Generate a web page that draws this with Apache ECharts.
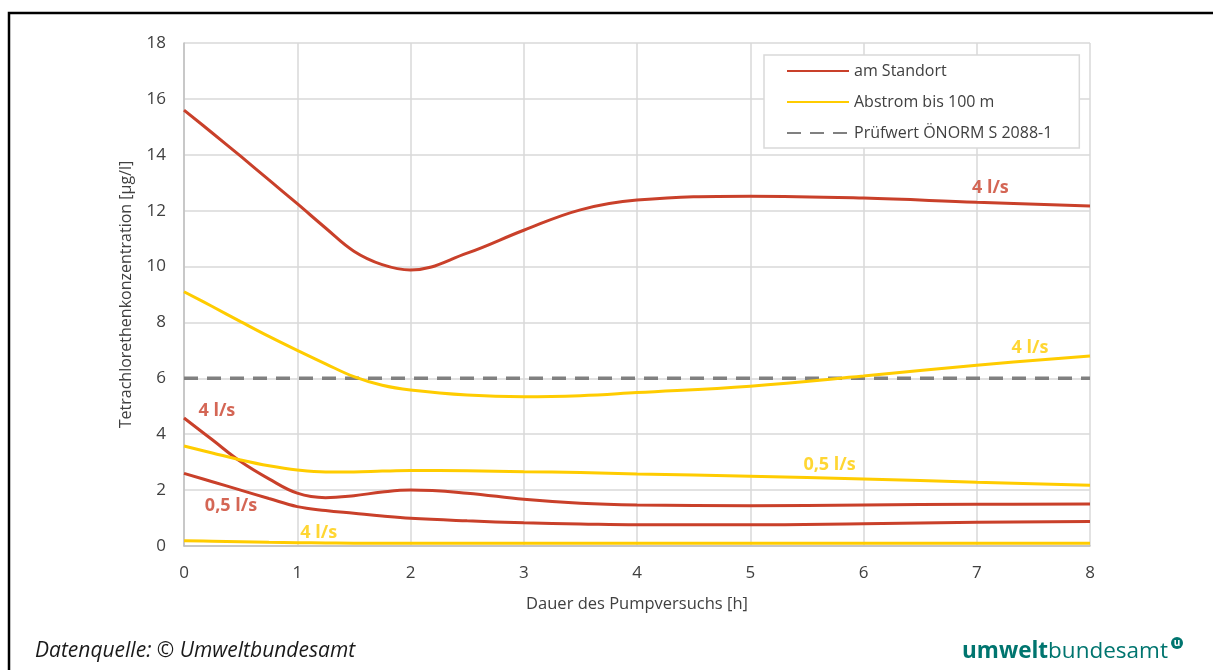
<!DOCTYPE html>
<html>
<head>
<meta charset="utf-8">
<script src="https://cdn.jsdelivr.net/npm/echarts@6/dist/echarts.min.js"></script>
<style>
html,body{margin:0;padding:0;background:#fff;}
#chart{width:1213px;height:670px;}
</style>
</head>
<body>
<div id="chart"></div>
<script>
// ---- data ----
var hours = [0, 0.25, 0.5, 0.75, 1, 1.25, 1.5, 1.75, 2, 2.5, 3, 3.5, 4, 5, 6, 7, 8];
var standort4 = [15.6, 14.78, 13.95, 13.1, 12.25, 11.38, 10.55, 10.07, 9.88, 10.48, 11.3, 12.03, 12.38, 12.52, 12.45, 12.3, 12.17];
var standort4b = [4.58, 3.8, 3.02, 2.4, 1.89, 1.73, 1.8, 1.93, 2.0, 1.89, 1.67, 1.53, 1.47, 1.44, 1.47, 1.49, 1.5];
var standort05 = [2.6, 2.3, 2.0, 1.7, 1.41, 1.27, 1.17, 1.07, 0.99, 0.9, 0.83, 0.79, 0.76, 0.76, 0.8, 0.85, 0.88];
var abstrom4 = [9.1, 8.57, 8.03, 7.5, 7.0, 6.52, 6.06, 5.75, 5.58, 5.40, 5.34, 5.38, 5.49, 5.72, 6.08, 6.47, 6.8];
var abstrom05 = [3.58, 3.33, 3.08, 2.87, 2.72, 2.65, 2.65, 2.68, 2.7, 2.69, 2.66, 2.63, 2.58, 2.5, 2.4, 2.28, 2.17];
var abstrom4b = [0.19, 0.17, 0.15, 0.13, 0.12, 0.11, 0.1, 0.1, 0.1, 0.1, 0.1, 0.1, 0.1, 0.1, 0.1, 0.1, 0.1];
var pruefwertX = [0, 8];
var pruefwertY = [6, 6];
var xTicks = [0, 1, 2, 3, 4, 5, 6, 7, 8];
var yTicks = [0, 2, 4, 6, 8, 10, 12, 14, 16, 18];
// annotation labels: [x, y, text]
var labelsRed = [[7.12, 12.81, '4 l/s'], [0.29, 4.83, '4 l/s'], [0.415, 1.43, '0,5 l/s']];
var labelsYellow = [[7.47, 7.09, '4 l/s'], [5.70, 2.9, '0,5 l/s'], [1.19, 0.47, '4 l/s']];
var legendNames = ['am Standort', 'Abstrom bis 100 m', 'Prüfwert ÖNORM S 2088-1'];

var RED = '#c9402a', YEL = '#ffcc00', GRAY = '#808080';

function pairs(xs, ys) { return xs.map(function (x, i) { return [x, ys[i]]; }); }

function lineSeries(name, ys, color) {
  return {
    name: name, type: 'line', data: pairs(hours, ys), smooth: 0.4,
    symbol: 'none', lineStyle: { color: color, width: 3 }, itemStyle: { color: color },
    z: 3, silent: true
  };
}
function labelSeries(arr, color) {
  return {
    type: 'scatter', data: arr.map(function (d) { return { value: [d[0], d[1]], name: d[2] }; }),
    symbolSize: 0, silent: true, z: 5,
    label: {
      show: true, position: 'inside', formatter: function (p) { return p.name; },
      color: color, fontFamily: 'Open Sans', fontWeight: 'bold', fontSize: 18
    }
  };
}

var chart = echarts.init(document.getElementById('chart'), null, { renderer: 'canvas' });
chart.setOption({
  animation: false,
  backgroundColor: '#fff',
  grid: { left: 184, right: 123, top: 43, bottom: 124 },
  xAxis: {
    type: 'value', min: xTicks[0], max: xTicks[xTicks.length - 1], interval: 1,
    name: 'Dauer des Pumpversuchs [h]', nameLocation: 'middle', nameGap: 50,
    nameTextStyle: { fontFamily: 'Open Sans', fontSize: 16.5, color: '#404040' },
    axisLine: { show: true, lineStyle: { color: '#bfbfbf', width: 1.5 } },
    axisTick: { show: false },
    axisLabel: { margin: 19, fontFamily: 'Open Sans', fontSize: 17, color: '#404040' },
    splitLine: { show: true, lineStyle: { color: '#d9d9d9', width: 1.5 } }
  },
  yAxis: {
    type: 'value', min: yTicks[0], max: yTicks[yTicks.length - 1], interval: 2,
    name: 'Tetrachlorethenkonzentration [µg/l]', nameLocation: 'middle', nameGap: 50,
    nameTextStyle: { fontFamily: 'Open Sans', fontSize: 16, color: '#404040' },
    axisLine: { show: true, lineStyle: { color: '#bfbfbf', width: 1.5 } },
    axisTick: { show: false },
    axisLabel: { margin: 18, fontFamily: 'Open Sans', fontSize: 17, color: '#404040' },
    splitLine: { show: true, lineStyle: { color: '#d9d9d9', width: 1.5 } }
  },
  legend: {
    data: legendNames, orient: 'vertical', left: 764, top: 55,
    padding: [8, 27, 7, 22], itemGap: 15, itemWidth: 62, itemHeight: 14,
    borderColor: '#d9d9d9', borderWidth: 1.5, backgroundColor: '#fff',
    itemStyle: { opacity: 0 },
    textStyle: { fontFamily: 'Open Sans', fontSize: 16, color: '#404040' },
    selectedMode: false
  },
  series: [
    {
      name: legendNames[2], type: 'line', data: pairs(pruefwertX, pruefwertY), symbol: 'none',
      lineStyle: { color: GRAY, width: 3.5, type: [14, 9] }, itemStyle: { color: GRAY }, z: 2, silent: true
    },
    lineSeries(legendNames[0], standort4, RED),
    lineSeries(legendNames[0], standort4b, RED),
    lineSeries(legendNames[0], standort05, RED),
    lineSeries(legendNames[1], abstrom4, YEL),
    lineSeries(legendNames[1], abstrom05, YEL),
    lineSeries(legendNames[1], abstrom4b, YEL),
    labelSeries(labelsRed, RED),
    labelSeries(labelsYellow, YEL)
  ],
  graphic: [
    { type: 'polyline', shape: { points: [[9, 700], [9, 13], [1230, 13]] },
      style: { stroke: '#000', lineWidth: 2.5, fill: null }, silent: true },
    { type: 'text', left: 35, top: 641,
      style: { text: 'Datenquelle: © Umweltbundesamt', font: 'italic 21px "Open Sans"', fill: '#1a1a1a' } },
    { type: 'text', left: 962, top: 640,
      style: {
        text: '{b|umwelt}{n|bundesamt}',
        rich: {
          b: { font: 'bold 22.5px "Open Sans"', fill: '#00756f' },
          n: { font: '22.5px "Open Sans"', fill: '#00756f' }
        }
      } },
    { type: 'circle', shape: { cx: 1177, cy: 643, r: 6 }, style: { fill: '#00756f' } },
    { type: 'text', x: 1177, y: 643,
      style: { text: 'u', font: 'bold 10px "Open Sans"', fill: '#fff', align: 'center', verticalAlign: 'middle' } }
  ]
});
</script>
</body>
</html>
